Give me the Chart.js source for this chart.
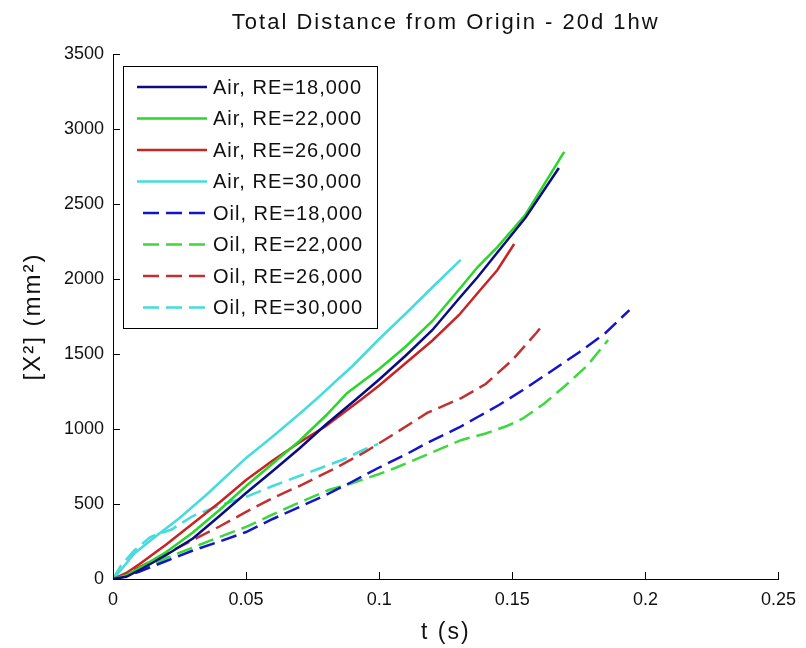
<!DOCTYPE html>
<html>
<head>
<meta charset="utf-8">
<script src="https://cdn.jsdelivr.net/npm/chart.js@4.4.1/dist/chart.umd.min.js"></script>
<style>
  html, body { margin: 0; padding: 0; background: #fff; }
</style>
</head>
<body>
<canvas id="distChart" width="806" height="648"></canvas>
<script>
// --- data (t in s, [X^2] in mm^2) ---
const chartTitle = 'Total Distance from Origin - 20d 1hw';
const xTitle = 't (s)';
const yTitle = '[X²] (mm²)';
const xTicks = [0, 0.05, 0.1, 0.15, 0.2, 0.25];
const yTicks = [0, 500, 1000, 1500, 2000, 2500, 3000, 3500];

const seriesLabels = [
  'Air, RE=18,000', 'Air, RE=22,000', 'Air, RE=26,000', 'Air, RE=30,000',
  'Oil, RE=18,000', 'Oil, RE=22,000', 'Oil, RE=26,000', 'Oil, RE=30,000'
];
const seriesColors = ['#0c0c82', '#2ad62a', '#c82424', '#44dcdc', '#1414c8', '#3ed83e', '#c23030', '#44dcdc'];

const tAir18 = [0, 0.005, 0.01, 0.02, 0.03, 0.04, 0.05, 0.06, 0.07, 0.08, 0.091, 0.1, 0.11, 0.12, 0.13, 0.137, 0.145, 0.155, 0.1675];
const vAir18 = [0, 15, 60, 160, 270, 420, 573, 720, 870, 1030, 1193, 1330, 1490, 1660, 1870, 2013, 2190, 2410, 2740];

const tAir22 = [0, 0.005, 0.01, 0.02, 0.03, 0.04, 0.05, 0.06, 0.07, 0.08, 0.088, 0.1, 0.11, 0.12, 0.13, 0.137, 0.1444, 0.155, 0.1695];
const vAir22 = [0, 25, 75, 180, 310, 460, 620, 770, 920, 1090, 1240, 1400, 1550, 1720, 1930, 2080, 2213, 2430, 2847];

const tAir26 = [0, 0.005, 0.01, 0.02, 0.03, 0.04, 0.05, 0.06, 0.07, 0.08, 0.093, 0.1, 0.11, 0.12, 0.13, 0.137, 0.1444, 0.1507];
const vAir26 = [0, 40, 100, 230, 370, 510, 660, 790, 910, 1020, 1193, 1290, 1440, 1590, 1760, 1907, 2060, 2233];

const tAir30 = [0, 0.003, 0.008, 0.015, 0.025, 0.035, 0.05, 0.06, 0.07, 0.076, 0.085, 0.09, 0.1, 0.11, 0.12, 0.1306];
const vAir30 = [0, 60, 170, 270, 407, 560, 807, 950, 1100, 1193, 1340, 1420, 1600, 1770, 1945, 2127];

const tOil18 = [0, 0.005, 0.01, 0.02, 0.03, 0.04, 0.05, 0.06, 0.07, 0.08, 0.09, 0.0996, 0.11, 0.118, 0.13, 0.137, 0.145, 0.154, 0.165, 0.175, 0.185, 0.194];
const vOil18 = [0, 20, 50, 120, 190, 250, 313, 400, 480, 560, 650, 740, 830, 907, 1010, 1080, 1160, 1260, 1390, 1510, 1640, 1793];

const tOil22 = [0, 0.005, 0.01, 0.02, 0.03, 0.04, 0.05, 0.06, 0.07, 0.081, 0.09, 0.1, 0.106, 0.118, 0.131, 0.14, 0.148, 0.154, 0.162, 0.17, 0.178, 0.186];
const vOil22 = [0, 25, 60, 140, 210, 280, 347, 430, 510, 593, 640, 700, 740, 830, 927, 970, 1020, 1070, 1170, 1290, 1420, 1593];

const tOil26 = [0, 0.005, 0.01, 0.02, 0.03, 0.04, 0.05, 0.06, 0.07, 0.0836, 0.095, 0.105, 0.118, 0.131, 0.14, 0.15, 0.159, 0.162];
const vOil26 = [0, 30, 80, 170, 260, 350, 447, 540, 620, 740, 850, 960, 1107, 1207, 1300, 1460, 1640, 1707];

const tOil30 = [0, 0.003, 0.008, 0.014, 0.022, 0.03, 0.04, 0.05, 0.06, 0.069, 0.078, 0.087, 0.094, 0.0996];
const vOil30 = [0, 90, 190, 280, 330, 420, 490, 547, 620, 680, 740, 800, 860, 900];

const seriesT = [tAir18, tAir22, tAir26, tAir30, tOil18, tOil22, tOil26, tOil30];
const seriesV = [vAir18, vAir22, vAir26, vAir30, vOil18, vOil22, vOil26, vOil30];

const FONT = "'Liberation Sans', Arial, sans-serif";
const DASH = [16, 7];

// Title and axis titles (spaced out a little, like the original figure)
const titlesPlugin = {
  id: 'titlesPlugin',
  afterDraw(chart) {
    const { ctx, chartArea } = chart;
    const cx = (chartArea.left + chartArea.right) / 2;
    const cy = (chartArea.top + chartArea.bottom) / 2;
    ctx.save();
    ctx.fillStyle = '#111';
    ctx.textAlign = 'center';
    ctx.textBaseline = 'middle';
    ctx.letterSpacing = '2px';
    ctx.font = '22px ' + FONT;
    ctx.fillText(chartTitle, cx, 23);
    ctx.font = '23px ' + FONT;
    ctx.fillText(xTitle, cx, 633);
    ctx.translate(33, cy);
    ctx.rotate(-Math.PI / 2);
    ctx.font = '24px ' + FONT;
    ctx.fillText(yTitle, 0, 0);
    ctx.restore();
  }
};

// Matlab style tick marks, pointing inside the axes
const innerTicks = {
  id: 'innerTicks',
  afterDraw(chart) {
    const { ctx, chartArea, scales } = chart;
    ctx.save();
    ctx.strokeStyle = '#000';
    ctx.lineWidth = 1;
    ctx.beginPath();
    scales.x.ticks.forEach(t => {
      const px = Math.round(scales.x.getPixelForValue(t.value)) + 0.5;
      ctx.moveTo(px, chartArea.bottom);
      ctx.lineTo(px, chartArea.bottom - 7);
    });
    scales.y.ticks.forEach(t => {
      const py = Math.round(scales.y.getPixelForValue(t.value)) + 0.5;
      ctx.moveTo(chartArea.left, py);
      ctx.lineTo(chartArea.left + 7, py);
    });
    ctx.stroke();
    ctx.restore();
  }
};

// Boxed legend in the upper left of the plot
const boxLegend = {
  id: 'boxLegend',
  afterDraw(chart) {
    const { ctx, chartArea } = chart;
    const x0 = Math.round(chartArea.left) + 10;
    const y0 = Math.round(chartArea.top) + 12;
    const rowH = 31.5;
    const w = 254, h = rowH * seriesLabels.length + 10;
    ctx.save();
    ctx.fillStyle = '#fff';
    ctx.fillRect(x0, y0, w, h);
    ctx.strokeStyle = '#000';
    ctx.lineWidth = 1;
    ctx.strokeRect(x0 + 0.5, y0 + 0.5, w, h);
    ctx.font = '20px ' + FONT;
    ctx.letterSpacing = '1px';
    ctx.textBaseline = 'middle';
    chart.data.datasets.forEach((ds, i) => {
      const y = y0 + 21 + i * rowH;
      ctx.strokeStyle = ds.borderColor;
      ctx.lineWidth = 2.5;
      ctx.setLineDash(ds.borderDash || []);
      ctx.lineDashOffset = ds.borderDash ? -6 : 0;
      ctx.beginPath();
      ctx.moveTo(x0 + 14, y);
      ctx.lineTo(x0 + 84, y);
      ctx.stroke();
      ctx.setLineDash([]);
      ctx.fillStyle = '#111';
      ctx.fillText(ds.label, x0 + 90, y + 1);
    });
    ctx.restore();
  }
};

const datasets = seriesLabels.map((label, i) => ({
  label: label,
  data: seriesT[i].map((t, j) => ({ x: t, y: seriesV[i][j] })),
  borderColor: seriesColors[i],
  backgroundColor: seriesColors[i],
  borderWidth: 2.5,
  borderDash: i >= 4 ? DASH : undefined,
  showLine: true,
  pointRadius: 0,
  tension: 0
}));

new Chart(document.getElementById('distChart').getContext('2d'), {
  type: 'scatter',
  data: { datasets: datasets },
  options: {
    responsive: false,
    animation: false,
    layout: { padding: { top: 54, right: 24, left: 0, bottom: 0 } },
    plugins: {
      legend: { display: false },
      title: { display: false },
      tooltip: { enabled: false }
    },
    scales: {
      x: {
        type: 'linear',
        min: 0,
        max: 0.25,
        afterFit: s => { s.height = 69; },
        afterBuildTicks: s => { s.ticks = xTicks.map(v => ({ value: v })); },
        grid: { drawOnChartArea: false, drawTicks: false },
        border: { display: true, color: '#000', width: 1 },
        ticks: {
          color: '#111',
          padding: 10,
          maxRotation: 0,
          font: { family: FONT, size: 18 },
          callback: v => String(+v.toFixed(2))
        }
      },
      y: {
        type: 'linear',
        min: 0,
        max: 3500,
        afterFit: s => { s.width = 113; },
        afterBuildTicks: s => { s.ticks = yTicks.map(v => ({ value: v })); },
        grid: { drawOnChartArea: false, drawTicks: false },
        border: { display: true, color: '#000', width: 1 },
        ticks: {
          color: '#111',
          padding: 9,
          font: { family: FONT, size: 18 },
          callback: v => String(v)
        }
      }
    }
  },
  plugins: [innerTicks, boxLegend, titlesPlugin]
});
</script>
</body>
</html>
